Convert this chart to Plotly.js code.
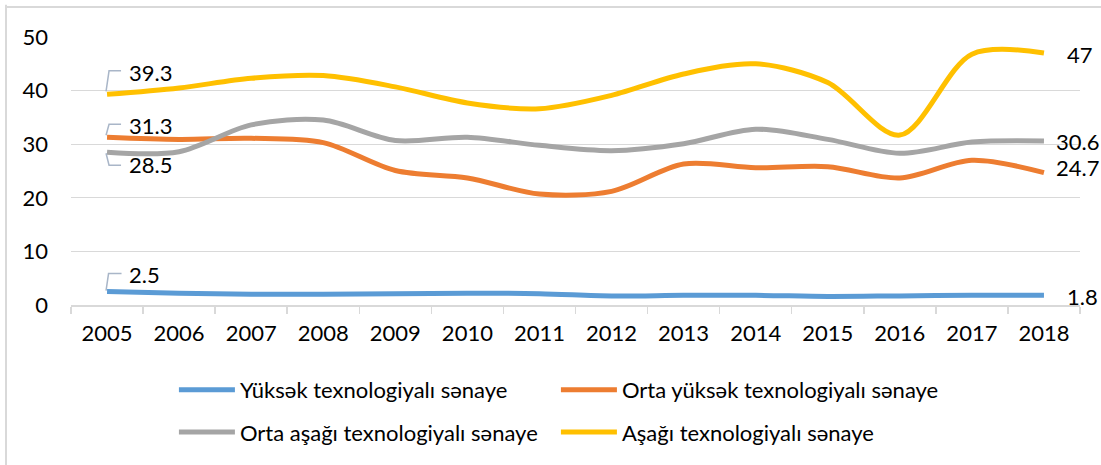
<!DOCTYPE html>
<html>
<head>
<meta charset="utf-8">
<script src="https://cdn.plot.ly/plotly-3.0.1.min.js"></script>
<style>
html,body{margin:0;padding:0;background:#fff;}
#chart{width:1101px;height:465px;}
</style>
</head>
<body>
<div id="chart"></div>
<script>
const years = ['2005','2006','2007','2008','2009','2010','2011','2012','2013','2014','2015','2016','2017','2018'];
const seriesNames = ['Yüksək texnologiyalı sənaye','Orta yüksək texnologiyalı sənaye','Orta aşağı texnologiyalı sənaye','Aşağı texnologiyalı sənaye'];
const yuksek    = [2.5, 2.2, 2.0, 2.0, 2.1, 2.2, 2.1, 1.7, 1.8, 1.8, 1.6, 1.7, 1.8, 1.8];
const ortaYuksek= [31.3, 30.9, 31.1, 30.3, 25.1, 23.7, 20.7, 21.2, 26.3, 25.6, 25.8, 23.7, 27.0, 24.7];
const ortaAsagi = [28.5, 28.6, 33.6, 34.5, 30.7, 31.3, 29.8, 28.8, 30.1, 32.8, 30.9, 28.3, 30.4, 30.6];
const asagi     = [39.3, 40.5, 42.3, 42.8, 40.7, 37.7, 36.6, 39.1, 43.1, 45.0, 41.5, 31.7, 46.8, 47.0];
const yTicks = [0,10,20,30,40,50];

const colors = ['#5B9BD5','#ED7D31','#A5A5A5','#FFC000'];
const FONT = 'Lato, "Noto Sans", sans-serif';
const FS = 22;
const all = [yuksek, ortaYuksek, ortaAsagi, asagi];

const traces = all.map((vals,i)=>({
  type:'scatter', mode:'lines', x:years, y:vals, name:seriesNames[i],
  line:{color:colors[i], width:5, shape:'spline', smoothing:0.9},
  legend: i<2 ? 'legend' : 'legend2',
  hoverinfo:'x+y'
}));
const iFirst = 0, n = years.length-1;

const ann = [];
function lab(xi, y, text, xs, ys){
  ann.push({x:xi, y:y, xref:'x', yref:'y', text:text, showarrow:false,
    xanchor:'left', yanchor:'middle', xshift:xs, yshift:ys,
    font:{family:FONT, size:FS, color:'#000'}});
}
// left labels (2005)
lab(iFirst, asagi[0], String(asagi[0]), 20, 22);
lab(iFirst, ortaYuksek[0], String(ortaYuksek[0]), 20, 12);
lab(iFirst, ortaAsagi[0], String(ortaAsagi[0]), 20, -12);
lab(iFirst, yuksek[0], String(yuksek[0]), 20, 17.5);
// right labels (2018)
lab(n, asagi[n], String(asagi[n]), 21, -1);
lab(n, ortaAsagi[n], String(ortaAsagi[n]), 10, -1);
lab(n, ortaYuksek[n], String(ortaYuksek[n]), 10, 5);
lab(n, yuksek[n], String(yuksek[n]), 21, -1);

const leaderStyle = {color:'#A9B6C8', width:1.5};
function leader(y, path){
  return {type:'path', xref:'x', yref:'y', xsizemode:'pixel', ysizemode:'pixel',
    xanchor:iFirst, yanchor:y, path:path, line:leaderStyle, layer:'above'};
}
const shapes = [
  leader(asagi[0], 'M-1,3 L2,23.5 L14,23.5'),
  leader(ortaYuksek[0], 'M-1,2 L2,13 L14,13'),
  leader(ortaAsagi[0], 'M-1,-1 L2,-13 L14,-13'),
  leader(yuksek[0], 'M-1,1 L1.5,18 L14.5,18'),
  // chart border (left & top visible)
  {type:'line', xref:'paper', yref:'paper', x0:-0.0644, x1:-0.0644, y0:-0.6, y1:1.12,
   line:{color:'#D9D9D9', width:2}},
  {type:'line', xref:'paper', yref:'paper', x0:-0.0644, x1:1.05, y0:1.1119, y1:1.1119,
   line:{color:'#D9D9D9', width:2}}
];

const legendCommon = {orientation:'h', xanchor:'left', yanchor:'middle',
  font:{family:FONT, size:FS, color:'#000'}, bgcolor:'rgba(0,0,0,0)',
  entrywidth:311, entrywidthmode:'pixels', itemwidth:56, tracegroupgap:0};

const layout = {
  width:1101, height:465,
  margin:{l:71, r:21, t:37, b:160, pad:0},
  paper_bgcolor:'#fff', plot_bgcolor:'#fff',
  font:{family:FONT, size:FS, color:'#000'},
  showlegend:true,
  xaxis:{type:'category', range:[-0.5, years.length-0.5], autorange:false,
    showgrid:false, showline:true, linecolor:'#D9D9D9', linewidth:1.5,
    ticks:'outside', tickson:'boundaries', ticklen:7, tickcolor:'#D9D9D9', tickwidth:1.5,
    tickangle:0,
    tickfont:{family:FONT, size:FS, color:'#000'}, ticklabelstandoff:8, zeroline:false,
    fixedrange:true},
  yaxis:{range:[0,50], autorange:false, tickvals:yTicks, ticktext:yTicks.map(String), showgrid:true,
    gridcolor:'#D9D9D9', gridwidth:1.3, zeroline:false, showline:false, ticks:'',
    tickfont:{family:FONT, size:FS, color:'#000'}, ticklabelstandoff:22, fixedrange:true},
  legend:Object.assign({}, legendCommon, {x:0.102, y:-0.317}),
  legend2:Object.assign({}, legendCommon, {x:0.102, y:-0.475}),
  annotations:ann,
  shapes:shapes
};

Plotly.newPlot('chart', traces, layout, {displayModeBar:false, staticPlot:true});
</script>
</body>
</html>
